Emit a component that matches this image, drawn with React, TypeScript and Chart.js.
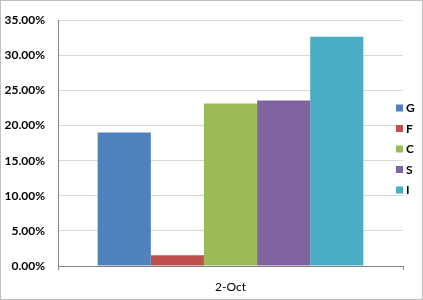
import React, { useEffect, useRef } from "react";
import { Chart, registerables } from "chart.js";

Chart.register(...registerables);

const categories = ["2-Oct"];
const seriesNames = ["G", "F", "C", "S", "I"];
const seriesValues = [[0.19], [0.0153], [0.2315], [0.2355], [0.3265]];
const seriesColors = ["#4F81BD", "#C0504D", "#9BBB59", "#8064A2", "#4BACC6"];

const FONT = "Lato, 'Open Sans', sans-serif";

const framePlugin = {
  id: "frame",
  afterDraw(chart: any) {
    const ctx = chart.ctx;
    ctx.save();
    ctx.strokeStyle = "#BFBFBF";
    ctx.lineWidth = 1;
    ctx.strokeRect(0.5, 0.5, chart.width - 1, chart.height - 1);
    // custom legend
    const area = chart.chartArea;
    const x0 = area.right - 7;
    const yStart = 108;
    const step = 20.5;
    ctx.font = "bold 12px " + FONT;
    ctx.textBaseline = "middle";
    ctx.textAlign = "left";
    chart.data.datasets.forEach((ds: any, i: number) => {
      const y = yStart + i * step;
      ctx.fillStyle = ds.backgroundColor;
      ctx.fillRect(x0, y - 3.5, 7, 7);
      ctx.fillStyle = "#000";
      ctx.fillText(ds.label, x0 + 10, y + 0.5);
    });
    ctx.restore();
  },
};

export default function App() {
  const ref = useRef<HTMLCanvasElement | null>(null);
  useEffect(() => {
    document.body.style.margin = "0";
    const chart = new Chart(ref.current!, {
      type: "bar",
      data: {
        labels: categories,
        datasets: seriesNames.map((n, i) => ({
          label: n,
          data: seriesValues[i],
          backgroundColor: seriesColors[i],
          borderWidth: 0,
          categoryPercentage: 0.77,
          barPercentage: 1,
        })),
      },
      options: {
        animation: false,
        responsive: false,
        maintainAspectRatio: false,
        layout: { padding: { top: 15, right: 20, left: 0, bottom: 0 } },
        plugins: { legend: { display: false }, tooltip: { enabled: false } },
        scales: {
          x: {
            grid: {
              display: true,
              drawOnChartArea: false,
              drawTicks: true,
              tickLength: 4,
              color: "#868686",
            },
            border: { color: "#868686" },
            ticks: { color: "#000", font: { family: FONT, size: 12 }, padding: 10 },
            afterFit: (s: any) => {
              s.height = 34;
            },
          },
          y: {
            min: 0,
            max: 0.35,
            grid: { color: "#D9D9D9", drawTicks: false },
            border: { color: "#868686" },
            ticks: {
              stepSize: 0.05,
              padding: 13,
              color: "#000",
              font: { family: FONT, size: 12, weight: "bold" },
              callback: (v: any) => (Number(v) * 100).toFixed(2) + "%",
            },
            afterFit: (s: any) => {
              s.width = 58;
            },
          },
        },
      },
      plugins: [framePlugin],
    });
    return () => chart.destroy();
  }, []);
  return <canvas ref={ref} width={423} height={300} style={{ display: "block" }} />;
}
